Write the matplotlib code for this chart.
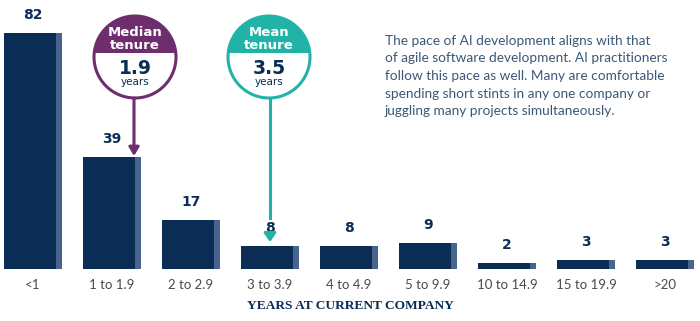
import numpy as np
import matplotlib.pyplot as plt
from matplotlib.patches import Circle, Rectangle

categories = ['<1', '1 to 1.9', '2 to 2.9', '3 to 3.9', '4 to 4.9',
              '5 to 9.9', '10 to 14.9', '15 to 19.9', '>20']
values = [82, 39, 17, 8, 8, 9, 2, 3, 3]
median_tenure = 1.9
mean_tenure = 3.5
note = ("The pace of AI development aligns with that\n"
        "of agile software development. AI practitioners\n"
        "follow this pace as well. Many are comfortable\n"
        "spending short stints in any one company or\n"
        "juggling many projects simultaneously.")

navy = '#0b2c55'
stripe = '#45658f'
purple = '#6e2d6c'
teal = '#21b3a7'

fig = plt.figure(figsize=(7, 3.21), dpi=100)

# bar axes: baseline at 52px from bottom, bar spacing 79px
ax = fig.add_axes([0, 52/321, 1, 269/321])
x = np.arange(len(categories))
width = 0.734
sw = width * 0.1
ax.bar(x - width/2, values, width=width - sw, align='edge', color=navy)
ax.bar(x + width/2 - sw, values, width=sw, align='edge', color=stripe)
for xi, v in zip(x, values):
    ax.annotate(str(v), (xi, v), xytext=(0, 8), textcoords='offset points',
                ha='center', va='bottom', fontsize=10, fontweight='bold',
                color=navy)
ax.set_xlim(-33/79, (700 - 33)/79)
ax.set_ylim(0, 269/2.878)
ax.set_xticks(x)
ax.set_xticklabels(categories, fontsize=9.5, color='#4a4a4a', family='Lato')
ax.tick_params(axis='x', length=0, pad=7)
ax.set_yticks([])
for s in ax.spines.values():
    s.set_visible(False)
ax.patch.set_visible(False)
fig.text(0.5, 15/321, 'YEARS AT CURRENT COMPANY', ha='center', va='center',
         fontsize=9.6, fontweight='bold', color=navy, family='Liberation Serif')

# overlay axes in pixel coordinates for callouts and note
ov = fig.add_axes([0, 0, 1, 1])
ov.set_xlim(0, 700)
ov.set_ylim(321, 0)
ov.axis('off')
ov.patch.set_visible(False)


def callout(cx, cy, r, color, title, num):
    c = Circle((cx, cy), r, facecolor='white', edgecolor=color, lw=2.2, zorder=3)
    ov.add_patch(c)
    top = Rectangle((cx - r, cy - r), 2*r, r - 4, facecolor=color,
                    edgecolor='none', zorder=3)
    ov.add_patch(top)
    top.set_clip_path(c)
    ov.text(cx, cy - 18, title, ha='center', va='center', color='white',
            fontsize=9.5, fontweight='bold', linespacing=0.95, zorder=4)
    ov.text(cx, cy + 11, num, ha='center', va='center', color=navy,
            fontsize=13.5, fontweight='bold', zorder=4)
    ov.text(cx, cy + 25, 'years', ha='center', va='center', color=navy,
            fontsize=7.5, zorder=4)


callout(135, 57, 41, purple, 'Median\ntenure', str(median_tenure))
callout(269, 57, 41, teal, 'Mean\ntenure', str(mean_tenure))

ov.annotate('', xy=(134, 156), xytext=(134, 98),
            arrowprops=dict(arrowstyle='-|>,head_length=0.5,head_width=0.3',
                            color=purple, lw=2.2, shrinkA=0, shrinkB=0))
ov.plot([270, 270], [98, 218], color=teal, lw=2.2)
ov.annotate('', xy=(270, 242), xytext=(270, 233),
            arrowprops=dict(arrowstyle='-|>,head_length=0.5,head_width=0.35',
                            color=teal, lw=2.2, shrinkA=0, shrinkB=0))

ov.text(385, 35, note, ha='left', va='top', fontsize=9.8, color='#3b5876',
        family='Lato', linespacing=1.55)

fig.savefig('out.png', dpi=100)
